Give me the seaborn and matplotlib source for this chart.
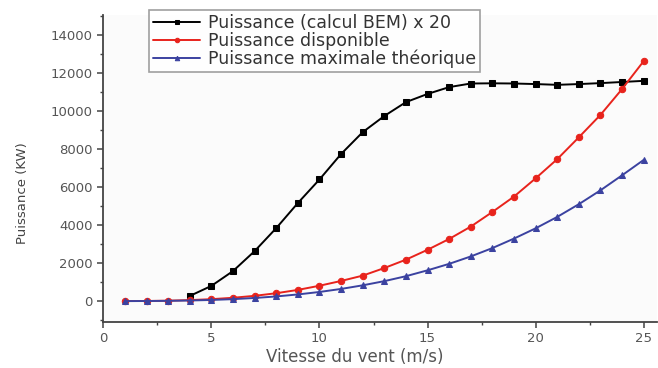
import numpy as np
import pandas as pd
import seaborn as sns
import matplotlib.pyplot as plt
from matplotlib.ticker import MultipleLocator

sns.set_style("white")
plt.rcParams['font.family'] = ['DejaVu Sans']

v_bem = [4, 5, 6, 7, 8, 9, 10, 11, 12, 13, 14, 15, 16, 17, 18, 19, 20, 21, 22, 23, 24, 25]
p_bem = [270, 800, 1580, 2630, 3840, 5160, 6400, 7740, 8890, 9740, 10470, 10900, 11260,
         11450, 11460, 11450, 11420, 11380, 11420, 11470, 11530, 11590]

v_all = list(range(1, 26))
p_dispo = [1, 6, 22, 52, 101, 175, 277, 414, 589, 808, 1060, 1340, 1740, 2180, 2700,
           3270, 3920, 4690, 5500, 6460, 7470, 8620, 9800, 11160, 12630]
p_max = [0, 4, 13, 31, 60, 103, 164, 245, 350, 480, 640, 830, 1050, 1310, 1620,
         1960, 2350, 2790, 3290, 3830, 4430, 5100, 5830, 6620, 7430]

labels = ["Puissance (calcul BEM) x 20", "Puissance disponible",
          "Puissance maximale théorique"]
colors = ["#000000", "#e8231c", "#3b42a0"]
markers = ["s", "o", "^"]

fig = plt.figure(figsize=(6.58, 3.68), dpi=100)
fig.patch.set_facecolor("white")
ax = fig.add_axes([0.157, 0.125, 0.841, 0.834])
ax.set_facecolor("#fbfbfb")

series = [(v_bem, p_bem), (v_all, p_dispo), (v_all, p_max)]
for (x, y), lab, c, m in zip(series, labels, colors, markers):
    df = pd.DataFrame({"x": x, "y": y})
    sns.lineplot(data=df, x="x", y="y", ax=ax, color=c, marker=m, markersize=4.6,
                 markeredgecolor=c, linewidth=1.4, label=lab)

ax.set_xlim(0, 25.6)
ax.set_ylim(-1100, 15050)
ax.xaxis.set_major_locator(MultipleLocator(5))
ax.xaxis.set_minor_locator(MultipleLocator(2.5))
ax.yaxis.set_major_locator(MultipleLocator(2000))
ax.yaxis.set_minor_locator(MultipleLocator(1000))
ax.set_yticks([0, 2000, 4000, 6000, 8000, 10000, 12000, 14000])

for s in ["top", "right"]:
    ax.spines[s].set_visible(False)
for s in ["left", "bottom"]:
    ax.spines[s].set_color("#444444")
    ax.spines[s].set_linewidth(1.3)

ax.tick_params(axis="both", which="major", direction="out", length=4, width=1.1,
               color="#444444", labelsize=9.5, labelcolor="#555555", left=True, bottom=True)
ax.tick_params(axis="both", which="minor", direction="out", length=2.5, width=1.0,
               color="#444444", left=True, bottom=True)

ax.set_xlabel("Vitesse du vent (m/s)", fontsize=12, color="#555555")
ax.set_ylabel("Puissance (KW)", fontsize=9.5, color="#444444")
ax.xaxis.set_label_coords(0.455, -0.085)
ax.yaxis.set_label_coords(-0.135, 0.42)

leg = ax.legend(loc="upper left", bbox_to_anchor=(0.083, 1.016), borderaxespad=0,
                frameon=True, fancybox=False, fontsize=12.5, handlelength=2.75,
                labelspacing=0.0, borderpad=0.2, handletextpad=0.45,
                markerscale=0.7)
leg.get_frame().set_edgecolor("#888888")
leg.get_frame().set_linewidth(1.2)
for t in leg.get_texts():
    t.set_color("#333333")

fig.savefig("out.png", dpi=100)
